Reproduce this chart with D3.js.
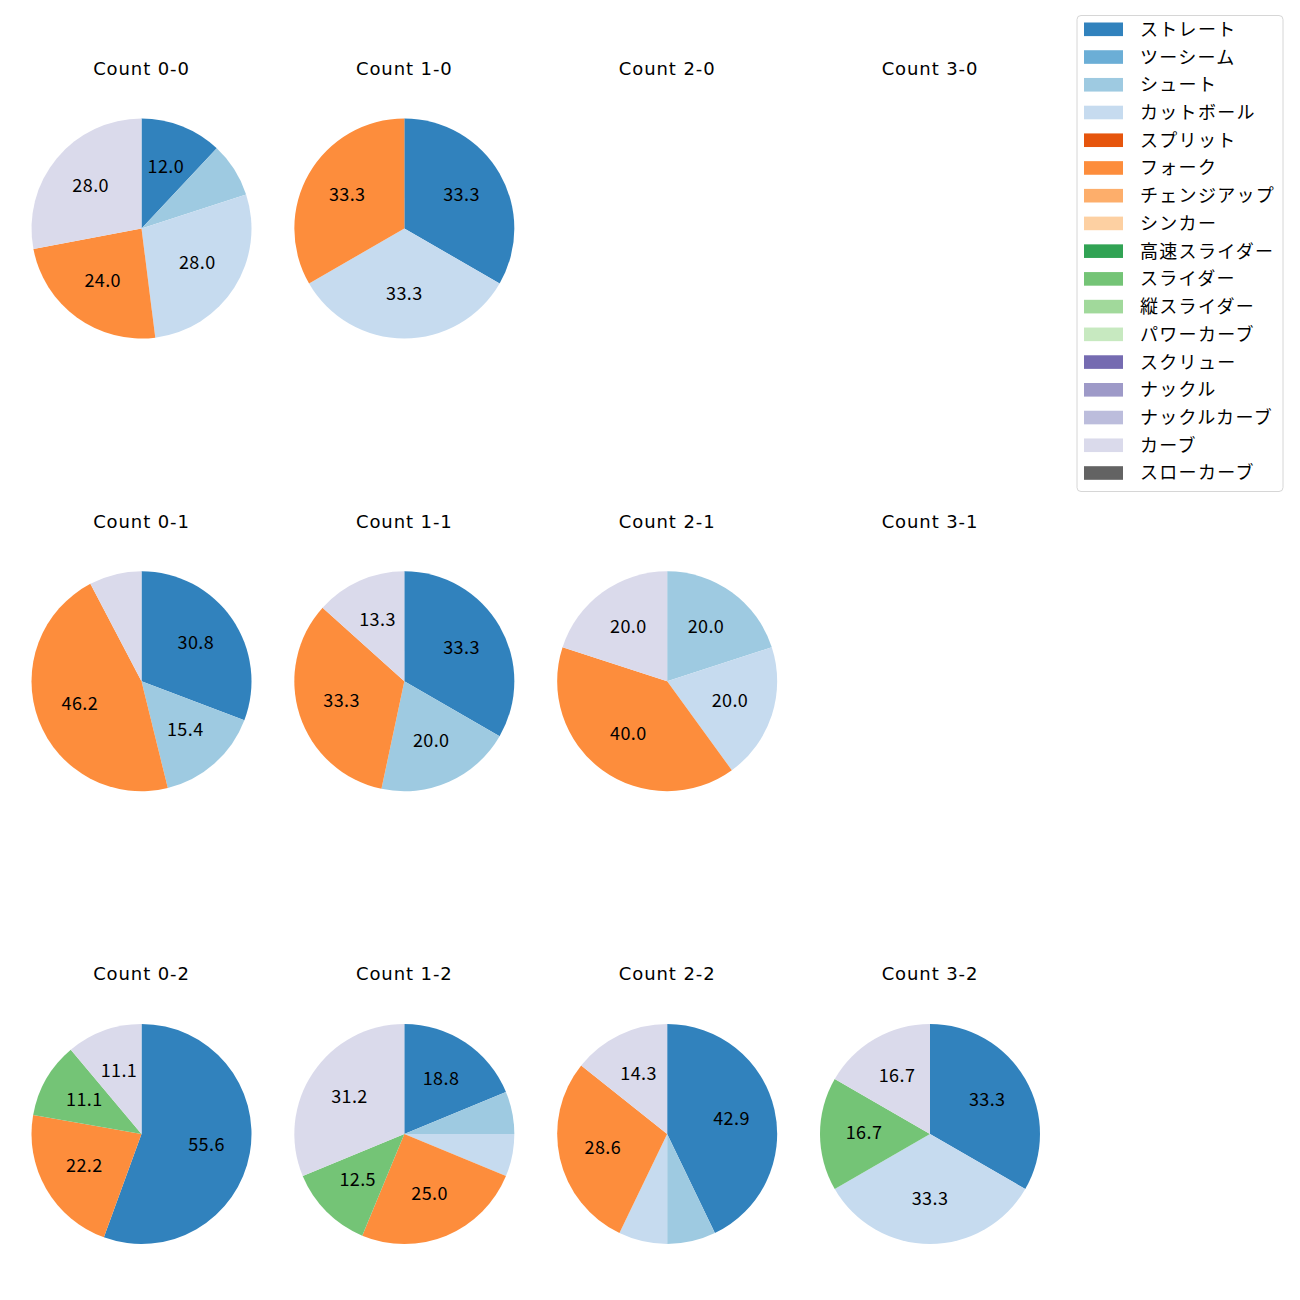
<!DOCTYPE html>
<html>
<head>
<meta charset="utf-8">
<script src="https://cdn.jsdelivr.net/npm/d3@7"></script>
<style>
  html, body { margin: 0; padding: 0; background: #ffffff; }
  svg { display: block; }
  text { font-family: "Noto Sans CJK JP", "Noto Sans", sans-serif; fill: #000; }
</style>
</head>
<body>
<svg id="chart" width="1300" height="1300"></svg>
<script>
// ---- data ----
const pitchTypes = ["ストレート","ツーシーム","シュート","カットボール","スプリット","フォーク","チェンジアップ","シンカー","高速スライダー","スライダー","縦スライダー","パワーカーブ","スクリュー","ナックル","ナックルカーブ","カーブ","スローカーブ"];
const palette = ["#3182bd","#6baed6","#9ecae1","#c6dbef","#e6550d","#fd8d3c","#fdae6b","#fdd0a2","#31a354","#74c476","#a1d99b","#c7e9c0","#756bb1","#9e9ac8","#bcbddc","#dadaeb","#636363"];
const balls = ["0","1","2","3"];
const strikes = ["0","1","2"];
// pitch counts per ball-strike count, in pitchTypes order
const count_0_0 = [3,0,2,7,0,6,0,0,0,0,0,0,0,0,0,7,0];
const count_1_0 = [1,0,0,1,0,1,0,0,0,0,0,0,0,0,0,0,0];
const count_2_0 = [0,0,0,0,0,0,0,0,0,0,0,0,0,0,0,0,0];
const count_3_0 = [0,0,0,0,0,0,0,0,0,0,0,0,0,0,0,0,0];
const count_0_1 = [4,0,2,0,0,6,0,0,0,0,0,0,0,0,0,1,0];
const count_1_1 = [5,0,3,0,0,5,0,0,0,0,0,0,0,0,0,2,0];
const count_2_1 = [0,0,1,1,0,2,0,0,0,0,0,0,0,0,0,1,0];
const count_3_1 = [0,0,0,0,0,0,0,0,0,0,0,0,0,0,0,0,0];
const count_0_2 = [5,0,0,0,0,2,0,0,0,1,0,0,0,0,0,1,0];
const count_1_2 = [3,0,1,1,0,4,0,0,0,2,0,0,0,0,0,5,0];
const count_2_2 = [6,0,1,1,0,4,0,0,0,0,0,0,0,0,0,2,0];
const count_3_2 = [2,0,0,2,0,0,0,0,0,1,0,0,0,0,0,1,0];

const cells = [
  {b:"0", s:"0", v:count_0_0}, {b:"1", s:"0", v:count_1_0}, {b:"2", s:"0", v:count_2_0}, {b:"3", s:"0", v:count_3_0},
  {b:"0", s:"1", v:count_0_1}, {b:"1", s:"1", v:count_1_1}, {b:"2", s:"1", v:count_2_1}, {b:"3", s:"1", v:count_3_1},
  {b:"0", s:"2", v:count_0_2}, {b:"1", s:"2", v:count_1_2}, {b:"2", s:"2", v:count_2_2}, {b:"3", s:"2", v:count_3_2}
];

// Python-style "%1.1f" (round half to even on exact halves)
function fmtPct(p) {
  const x = p * 10;
  const f = Math.floor(x);
  let r;
  if (Math.abs(x - f - 0.5) < 1e-9) r = (f % 2 === 0) ? f : f + 1;
  else r = Math.round(x);
  return (r / 10).toFixed(1);
}

// ---- layout ----
const svg = d3.select("#chart");
const xPos = d3.scalePoint().domain(balls).range([141.5, 930]);
const yPos = d3.scalePoint().domain(strikes).range([228.5, 1134]);
const radius = 110;
const color = d3.scaleOrdinal().domain(pitchTypes).range(palette);

const pie = d3.pie().sort(null).value(d => d.value)
  .startAngle(0).endAngle(2 * Math.PI);
const arc = d3.arc().innerRadius(0).outerRadius(radius);
const labelArc = d3.arc().innerRadius(radius * 0.6).outerRadius(radius * 0.6);

cells.forEach(c => {
  const cx = xPos(c.b), cy = yPos(c.s);
  const g = svg.append("g").attr("transform", `translate(${cx},${cy})`);
  g.append("text")
    .attr("x", 0).attr("y", -160)
    .attr("dy", "0.36em")
    .attr("text-anchor", "middle")
    .style("font-family", "'DejaVu Sans', sans-serif")
    .style("font-size", "18px")
    .style("letter-spacing", "0.9px")
    .text(`Count ${c.b}-${c.s}`);
  const data = pitchTypes.map((p, i) => ({name: p, value: c.v[i]})).filter(d => d.value > 0);
  const total = d3.sum(data, d => d.value);
  if (total === 0) return;
  const arcs = pie(data);
  g.selectAll("path.w").data(arcs).join("path")
    .attr("class", "w")
    .attr("d", arc)
    .attr("fill", d => color(d.data.name));
  g.selectAll("text.lbl").data(arcs.filter(d => d.data.value / total * 100 >= 10)).join("text")
    .attr("class", "lbl")
    .attr("transform", d => `translate(${labelArc.centroid(d)})`)
    .attr("dy", "0.3em")
    .attr("text-anchor", "middle")
    .style("font-size", "18px")
    .style("letter-spacing", "0.4px")
    .text(d => fmtPct(d.data.value / total * 100));
});

// ---- legend ----
const leg = svg.append("g");
leg.append("rect")
  .attr("x", 1077).attr("y", 15.5).attr("width", 206).attr("height", 476)
  .attr("rx", 4).attr("ry", 4)
  .attr("fill", "#ffffff").attr("fill-opacity", 0.8)
  .attr("stroke", "#d6d6d6").attr("stroke-width", 1);
const ly = d3.scalePoint().domain(pitchTypes).range([29.3, 473]);
const items = leg.selectAll("g.item").data(pitchTypes).join("g").attr("class", "item");
items.append("rect")
  .attr("x", 1084).attr("y", d => ly(d) - 6.8)
  .attr("width", 39).attr("height", 13.6)
  .attr("fill", d => color(d));
items.append("text")
  .attr("x", 1140).attr("y", d => ly(d))
  .attr("dy", "0.36em")
  .style("font-size", "18px")
  .style("letter-spacing", "1.3px")
  .text(d => d);
</script>
</body>
</html>
